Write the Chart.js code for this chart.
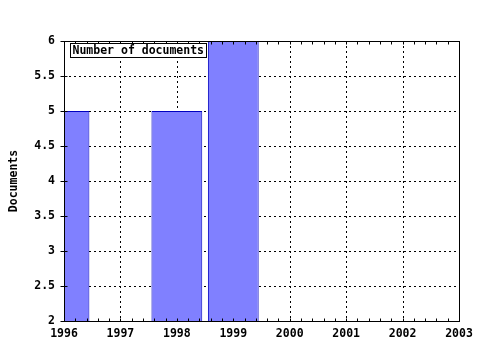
<!DOCTYPE html>
<html>
<head>
<meta charset="utf-8">
<script src="https://cdn.jsdelivr.net/npm/chart.js@4/dist/chart.umd.min.js"></script>
<style>
html,body{margin:0;padding:0;background:#fff;}
#wrap{width:480px;height:350px;}
</style>
</head>
<body>
<div id="wrap"><canvas id="c" width="480" height="350"></canvas></div>
<script>
// ---- data ----
const years = [1996, 1998, 1999];
const documents = [5, 5, 6];
const seriesLabel = 'Number of documents';
const xTickLabels = ['1996','1997','1998','1999','2000','2001','2002','2003'];
const yTickLabels = ['2','2.5','3','3.5','4','4.5','5','5.5','6'];
const yAxisTitle = 'Documents';

const FONT = 'DejaVu Sans Mono';

const framePlugin = {
  id: 'frame',
  beforeDatasetsDraw(chart) {
    const ctx = chart.ctx, a = chart.chartArea;
    const xs = chart.scales.x, ys = chart.scales.y;
    ctx.save();
    ctx.strokeStyle = '#000';
    ctx.lineWidth = 1;
    ctx.setLineDash([2, 3]);
    for (let v = xs.min + 1; v < xs.max; v++) {
      const px = Math.round(xs.getPixelForValue(v)) + 0.5;
      ctx.beginPath(); ctx.moveTo(px, a.top); ctx.lineTo(px, a.bottom); ctx.stroke();
    }
    for (let v = ys.min + 0.5; v < ys.max; v += 0.5) {
      const py = Math.round(ys.getPixelForValue(v)) + 0.5;
      ctx.beginPath(); ctx.moveTo(a.left, py); ctx.lineTo(a.right, py); ctx.stroke();
    }
    ctx.restore();
  },
  afterDatasetsDraw(chart) {
    const ctx = chart.ctx, a = chart.chartArea;
    const xs = chart.scales.x, ys = chart.scales.y;
    ctx.save();
    ctx.strokeStyle = '#000';
    ctx.lineWidth = 1;
    ctx.setLineDash([]);
    const L = Math.round(a.left) + 0.5, R = Math.round(a.right) + 0.5;
    const T = Math.round(a.top) + 0.5, B = Math.round(a.bottom) + 0.5;
    ctx.strokeRect(L, T, R - L, B - T);
    // x ticks (major + 4 minor) inside, bottom and top
    for (let i = 0; i <= (xs.max - xs.min) * 5; i++) {
      const v = xs.min + i / 5;
      const px = Math.round(xs.getPixelForValue(v)) + 0.5;
      ctx.beginPath(); ctx.moveTo(px, B); ctx.lineTo(px, B - 3); ctx.stroke();
      ctx.beginPath(); ctx.moveTo(px, T); ctx.lineTo(px, T + 3); ctx.stroke();
    }
    // y ticks crossing the left axis
    for (let v = ys.min; v <= ys.max + 1e-9; v += 0.5) {
      const py = Math.round(ys.getPixelForValue(v)) + 0.5;
      ctx.beginPath(); ctx.moveTo(L - 4, py); ctx.lineTo(L + 3, py); ctx.stroke();
    }
    // legend box
    const label = chart.data.datasets[0].label;
    ctx.font = 'bold 11.5px "' + FONT + '"';
    const w = Math.ceil(ctx.measureText(label).width);
    const bx = L + 6, by = T + 2;
    ctx.fillStyle = '#fff';
    ctx.fillRect(bx, by, w + 4, 14);
    ctx.strokeRect(bx, by, w + 4, 14);
    ctx.fillStyle = '#000';
    ctx.textBaseline = 'middle';
    ctx.textAlign = 'left';
    ctx.fillText(label, bx + 2, by + 7.5);
    ctx.restore();
  }
};

new Chart(document.getElementById('c'), {
  type: 'bar',
  data: {
    datasets: [{
      label: seriesLabel,
      data: years.map((y, i) => ({ x: y, y: documents[i] })),
      backgroundColor: '#8080ff',
      borderColor: '#0000c0',
      borderWidth: 1,
      borderSkipped: 'start',
      barPercentage: 0.9,
      categoryPercentage: 1.0
    }]
  },
  options: {
    responsive: false,
    animation: false,
    devicePixelRatio: 1,
    layout: { padding: { left: 0, top: 41, right: 21, bottom: 0 } },
    plugins: { legend: { display: false }, tooltip: { enabled: false } },
    scales: {
      x: {
        type: 'linear',
        min: 1996, max: 2003,
        offset: false,
        grid: { display: false, drawTicks: false },
        border: { display: false },
        ticks: {
          stepSize: 1, autoSkip: false, maxRotation: 0, padding: 6,
          color: '#000',
          font: { family: FONT, size: 11.5, weight: 'bold' },
          callback: (v) => xTickLabels[Math.round(v - 1996)] ?? ''
        },
        afterFit: (s) => { s.height = 29; }
      },
      y: {
        min: 2, max: 6,
        grid: { display: false, drawTicks: false },
        border: { display: false },
        ticks: {
          stepSize: 0.5, padding: 9, color: '#000',
          font: { family: FONT, size: 11.5, weight: 'bold' },
          callback: (v) => yTickLabels[Math.round((v - 2) * 2)] ?? ''
        },
        title: {
          display: true, text: yAxisTitle, color: '#000',
          font: { family: FONT, size: 11.5, weight: 'bold' },
          padding: { top: 7, bottom: 0 }
        },
        afterFit: (s) => { s.width = 64; }
      }
    }
  },
  plugins: [framePlugin]
});
</script>
</body>
</html>
